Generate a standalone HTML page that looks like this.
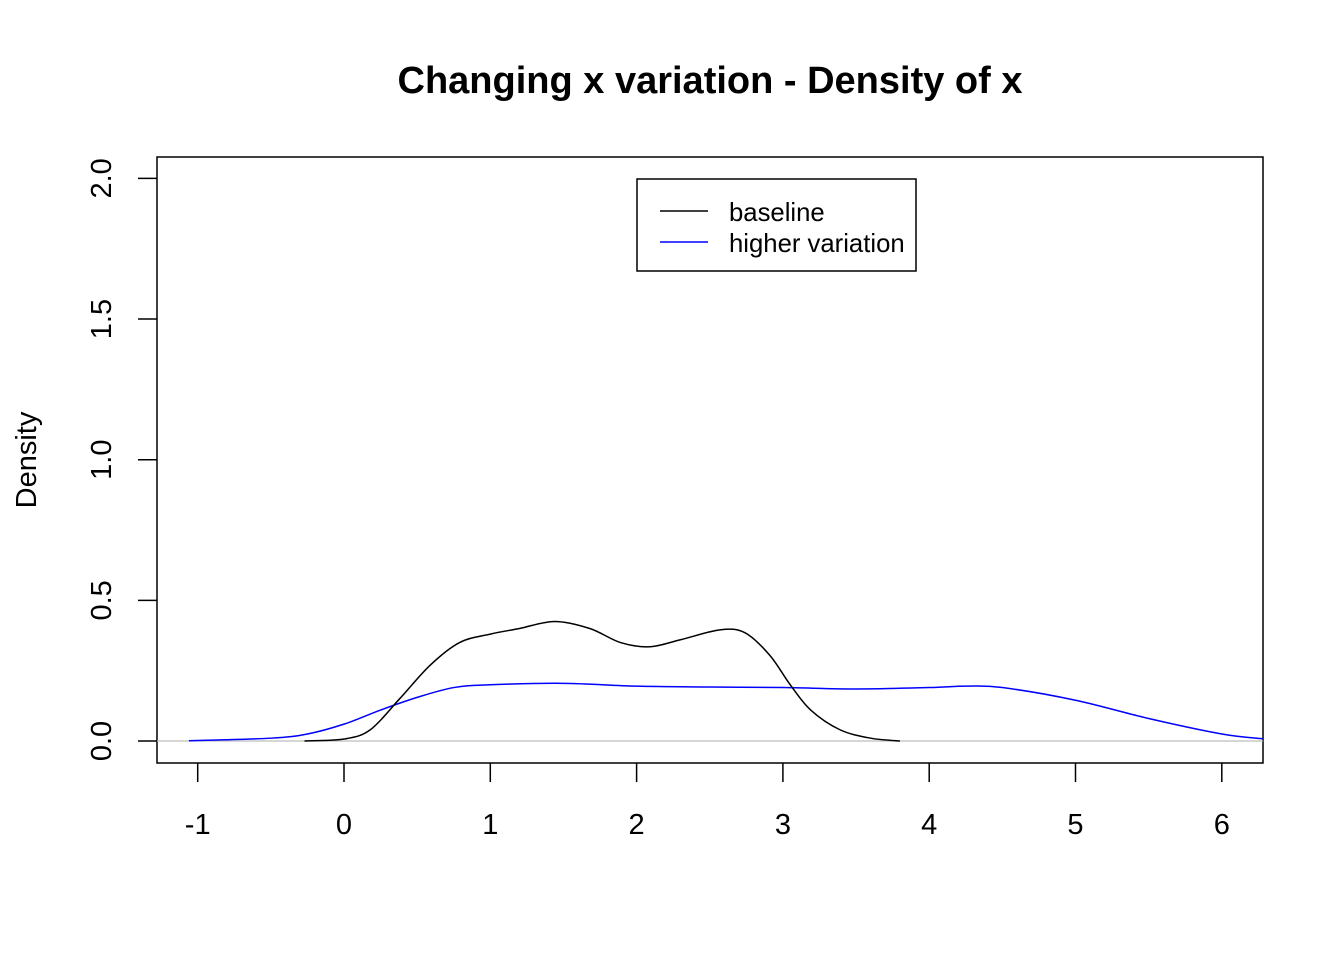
<!DOCTYPE html>
<html><head><meta charset="utf-8"><style>
body{margin:0;background:#fff;}
svg{display:block;font-family:"Liberation Sans",Arial,sans-serif;}
</style></head><body>
<svg id="chart" width="1344" height="960">
<text x="710" y="93" text-anchor="middle" font-size="38" font-weight="bold">Changing x variation - Density of x</text>
<text transform="translate(36,460) rotate(-90)" text-anchor="middle" font-size="29">Density</text>
<rect x="157" y="157" width="1106" height="606" fill="none" stroke="#000" stroke-width="1.5"/>
<g id="axes"></g>
<g id="series"></g>
<g>
<rect x="637" y="179" width="279" height="92" fill="#fff" stroke="#000" stroke-width="1.5"/>
<line x1="660" y1="211" x2="708" y2="211" stroke="#000" stroke-width="1.5"/>
<text x="729" y="221" font-size="25.7">baseline</text>
<line x1="660" y1="242" x2="708" y2="242" stroke="#0000ff" stroke-width="1.5"/>
<text x="729" y="252" font-size="25.7">higher variation</text>
</g>
</svg>
<script>
const xTicks=[-1,0,1,2,3,4,5,6];
const yTicks=[0,0.5,1,1.5,2];
const yTickLabels=["0.0","0.5","1.0","1.5","2.0"];
const baselineX=[-0.27,0,0.18,0.38,0.59,0.79,1,1.2,1.44,1.68,1.89,2.09,2.3,2.57,2.74,2.91,3.05,3.19,3.39,3.6,3.8];
const baselineY=[0,0.007,0.04,0.15,0.27,0.35,0.38,0.40,0.425,0.40,0.35,0.335,0.36,0.395,0.385,0.305,0.2,0.11,0.04,0.01,0];
const highX=[-1.06,-0.5,-0.25,0,0.25,0.5,0.75,1,1.5,2,2.5,3,3.5,4,4.25,4.5,5,5.5,6,6.28];
const highY=[0.001,0.01,0.025,0.06,0.11,0.155,0.19,0.2,0.205,0.195,0.192,0.19,0.185,0.19,0.195,0.19,0.145,0.08,0.025,0.008];
const sx=v=>344+v*146.3;
const sy=v=>741-v*281.3;
const NS="http://www.w3.org/2000/svg";
const axes=document.getElementById('axes'),series=document.getElementById('series');
function mk(tag,attrs,parent){const e=document.createElementNS(NS,tag);for(const k in attrs)e.setAttribute(k,attrs[k]);parent.appendChild(e);return e;}
xTicks.forEach(t=>{
 const l=mk('line',{x1:sx(t),x2:sx(t),y1:763,y2:782,stroke:'#000','stroke-width':1.5},axes);
 
 
 const tx=mk('text',{x:sx(t),y:834,'text-anchor':'middle','font-size':29},axes);
 tx.textContent=String(t);
 
 
});
yTicks.forEach((t,i)=>{
 const l=mk('line',{x1:138,x2:157,y1:sy(t),y2:sy(t),stroke:'#000','stroke-width':1.5},axes);
 
 
 const tx=mk('text',{transform:`translate(111,${sy(t)}) rotate(-90)`,'text-anchor':'middle','font-size':29},axes);
 tx.textContent=yTickLabels[i];
 
 
});
const zl=mk('line',{x1:157,x2:1263,y1:sy(0),y2:sy(0),stroke:'#bebebe','stroke-width':1.2},series);


function path(xs,ys){
 const p=xs.map((x,i)=>[sx(x),sy(ys[i])]);
 let d=`M${p[0][0]},${p[0][1]}`;
 for(let i=0;i<p.length-1;i++){
  const p0=p[i-1]||p[i],p1=p[i],p2=p[i+1],p3=p[i+2]||p2;
  d+=` C${p1[0]+(p2[0]-p0[0])/6},${p1[1]+(p2[1]-p0[1])/6} ${p2[0]-(p3[0]-p1[0])/6},${p2[1]-(p3[1]-p1[1])/6} ${p2[0]},${p2[1]}`;
 }
 return d;
}
const hp=mk('path',{d:path(highX,highY),fill:'none',stroke:'#0000ff','stroke-width':1.5},series);


const bp=mk('path',{d:path(baselineX,baselineY),fill:'none',stroke:'#000','stroke-width':1.5},series);


</script>
</body></html>
